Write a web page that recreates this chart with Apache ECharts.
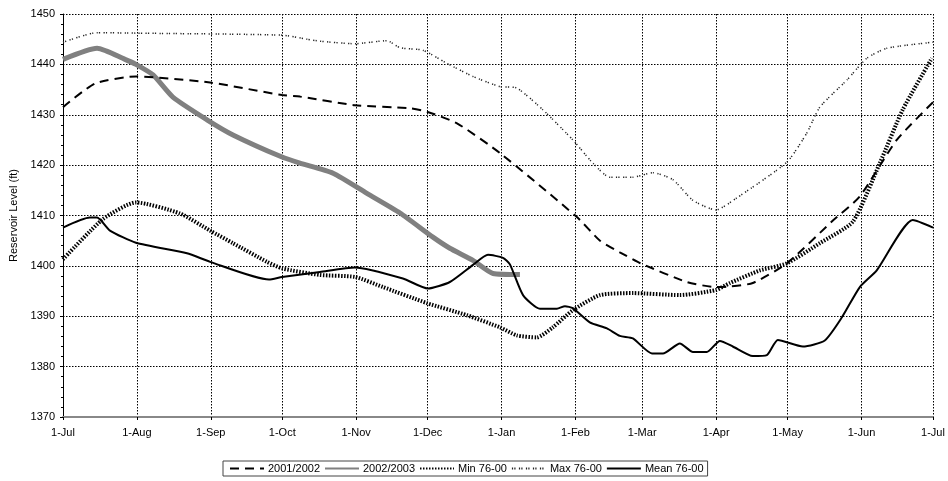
<!DOCTYPE html>
<html>
<head>
<meta charset="utf-8">
<script src="https://cdn.jsdelivr.net/npm/echarts@6/dist/echarts.min.js"></script>
<style>html,body{margin:0;padding:0;background:#fff}#c{width:948px;height:481px}</style>
</head>
<body>
<div id="c"></div>
<script>
// x = days since 1-Jul, y = reservoir level (ft)
var monthTicks = [0, 31, 62, 92, 123, 153, 184, 215, 243, 274, 304, 335, 365];
var monthLabels = ["1-Jul","1-Aug","1-Sep","1-Oct","1-Nov","1-Dec","1-Jan","1-Feb","1-Mar","1-Apr","1-May","1-Jun","1-Jul"];
var yTicks = [1370, 1380, 1390, 1400, 1410, 1420, 1430, 1440, 1450];
var seriesNames = ["2001/2002", "2002/2003", "Min 76-00", "Max 76-00", "Mean 76-00"];

var y2001_2002 = [[0,1431.5],[13.4,1436.2],[30.6,1437.6],[61.7,1436.4],[91.9,1433.9],[99.4,1433.6],[122.5,1431.9],[145.6,1431.3],[152.7,1430.6],[165.3,1428.3],[183.3,1422.4],[215.6,1409.7],[225.3,1405],[233.6,1402.7],[242.4,1400.5],[261.7,1396.8],[273.9,1395.8],[279.8,1395.9],[289.4,1396.6],[303.7,1400.5],[323,1409],[334.3,1413.8],[349.8,1425],[365,1432.5]];
var y2002_2003 = [[0,1441],[14.3,1443.2],[26,1441],[30.6,1440],[37.8,1437.9],[46.1,1433.5],[60.4,1429],[71.3,1426],[91.9,1421.6],[99.4,1420.4],[113.3,1418.4],[127.5,1414.4],[141.4,1410.5],[155.2,1405.7],[162.3,1403.5],[172,1401.1],[180.4,1398.5],[191.7,1398.3]];
var yMin = [[0,1401.3],[16.8,1409.3],[30.6,1412.6],[49.1,1410.4],[61.7,1407],[71.3,1404.5],[85.6,1400.8],[91.9,1399.5],[107.8,1398.2],[122.5,1397.8],[134.2,1395.8],[152.7,1392.6],[169.5,1390.2],[183.3,1387.8],[190.4,1386.2],[198.8,1385.8],[205.5,1387.8],[213.9,1391.2],[225.3,1394.2],[239.1,1394.6],[258.8,1394.2],[273.9,1395.2],[279.8,1396.6],[292.4,1399.1],[303.7,1400.5],[317.5,1404.5],[331.4,1408.8],[342.7,1420.4],[352.3,1431],[364.5,1441.2]];
var yMax = [[0,1444.4],[14.3,1446.3],[30.6,1446.2],[91.9,1445.8],[102.3,1445],[107.8,1444.6],[122.5,1444.1],[135.9,1444.7],[141.4,1443.3],[151,1442.8],[161.1,1440.2],[172,1437.6],[183.3,1435.6],[190.4,1435.3],[201.3,1431],[213.9,1425],[222.3,1420.4],[229.4,1417.6],[239.1,1417.6],[247.5,1418.5],[255.9,1417.1],[264.3,1413],[273.9,1411.1],[282.7,1413.5],[303.7,1420.6],[312.1,1426.4],[317.5,1431.5],[328.9,1436.9],[337.2,1441.2],[345.6,1443.2],[365,1444.4]];
var yMean = [[0,1407.6],[11.3,1409.6],[14.3,1409.6],[19.7,1407],[30.6,1404.6],[52,1402.5],[61.7,1400.8],[86.4,1397.3],[91.9,1397.8],[107.8,1398.8],[122.5,1399.7],[142.6,1397.5],[153.1,1395.5],[162.3,1396.8],[172,1400.2],[178.3,1402.2],[184.6,1401.6],[187.5,1400.3],[193,1394.2],[200.1,1391.5],[207.2,1391.5],[210.6,1392],[213.9,1391.6],[221,1388.8],[228.2,1387.6],[233.6,1386.1],[239.1,1385.6],[247.1,1382.6],[251.7,1382.6],[258.8,1384.6],[264.3,1382.9],[270.1,1382.9],[275.6,1385.1],[281,1384],[289.4,1382.1],[295.3,1382.3],[299.9,1385.3],[310.4,1384],[319.6,1385.2],[326.8,1389.8],[334.3,1395.8],[341.4,1399.1],[356.5,1409.1],[365,1407.6]];

var FONT = "Liberation Sans, Arial, sans-serif";
var chart = echarts.init(document.getElementById('c'), null, {renderer: 'canvas'});
var xLineColors = monthTicks.map(function(v, i){ return i === monthTicks.length - 1 ? '#999' : '#000'; });
var yLineColors = yTicks.map(function(v, i){ return i === yTicks.length - 1 ? '#999' : '#000'; });

function mk(name, data, ls, z) {
  return {name: name, type: 'line', data: data, symbol: 'none', smooth: 0.2, z: z,
          lineStyle: ls, itemStyle: {color: ls.color}, emphasis: {disabled: true}};
}

chart.setOption({
  animation: false,
  backgroundColor: '#fff',
  textStyle: {fontFamily: FONT},
  grid: {left: 63, right: 15, top: 14, bottom: 64, containLabel: false},
  xAxis: {
    type: 'value', min: 0, max: 365,
    axisLine: {show: true, lineStyle: {color: '#888', width: 2}},
    axisTick: {show: true, length: 3, lineStyle: {color: '#000'}, customValues: monthTicks},
    axisLabel: {customValues: monthTicks, color: '#000', fontSize: 11, fontFamily: FONT, margin: 10,
      formatter: function(v){ var i = monthTicks.indexOf(Math.round(v)); return i >= 0 ? monthLabels[i] : ''; }},
    splitLine: {show: true, showMinLine: false, lineStyle: {color: xLineColors, type: [1.5, 1.5], width: 1}}
  },
  yAxis: {
    type: 'value', min: 1370, max: 1450, interval: 10,
    name: 'Reservoir Level (ft)', nameLocation: 'middle', nameGap: 41, nameRotate: 90,
    nameTextStyle: {color: '#000', fontSize: 11, fontFamily: FONT},
    axisLine: {show: true, lineStyle: {color: '#000', width: 1}},
    axisTick: {show: true, length: 3, lineStyle: {color: '#000'}},
    minorTick: {show: true, splitNumber: 5, length: 2, lineStyle: {color: '#000'}},
    axisLabel: {color: '#000', fontSize: 11, fontFamily: FONT, margin: 8,
      formatter: function(v){ return String(v); }},
    splitLine: {show: true, showMinLine: false, lineStyle: {color: yLineColors, type: [1.5, 1.5], width: 1}}
  },
  legend: {
    left: 223, top: 461, orient: 'horizontal',
    padding: [2, 4, 2, 6], itemGap: 4, itemWidth: 34, itemHeight: 10,
    borderColor: '#444', borderWidth: 1, backgroundColor: '#fff', borderRadius: 0,
    itemStyle: {opacity: 0},
    textStyle: {color: '#000', fontSize: 11, fontFamily: FONT, padding: [0, 0, 0, -1]},
    data: seriesNames
  },
  series: [
    mk(seriesNames[0], y2001_2002, {color: '#000', width: 2, type: [9, 6]}, 3),
    mk(seriesNames[1], y2002_2003, {color: '#808080', width: 5, type: 'solid'}, 2),
    mk(seriesNames[2], yMin, {color: '#000', width: 4, type: [1.5, 1.5]}, 4),
    mk(seriesNames[3], yMax, {color: '#222', width: 1.5, type: [1.2, 1.2, 1.2, 3.4]}, 5),
    mk(seriesNames[4], yMean, {color: '#000', width: 2, type: 'solid'}, 6)
  ]
});
</script>
</body>
</html>
